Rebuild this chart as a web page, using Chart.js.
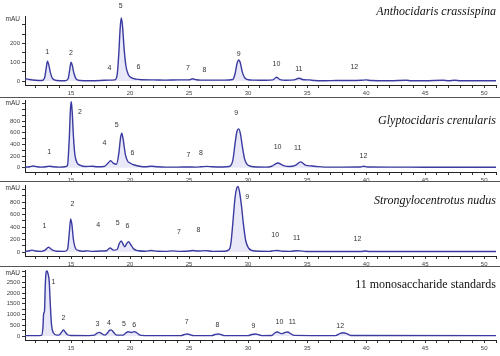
<!DOCTYPE html>
<html><head><meta charset="utf-8">
<script src="https://cdn.jsdelivr.net/npm/chart.js@4"></script>
<style>
html,body{margin:0;padding:0;background:#fff;}
#wrap{position:relative;width:500px;height:356px;overflow:hidden;}
canvas{position:absolute;left:0;top:0;}
</style></head><body>
<div id="wrap">
<canvas id="c1" width="500" height="356"></canvas>
<canvas id="c2" width="500" height="356"></canvas>
<canvas id="c3" width="500" height="356"></canvas>
<canvas id="c4" width="500" height="356"></canvas>
</div>
<script>
// ---------- shared axis labels ----------
const xTickLabels = [15, 20, 25, 30, 35, 40, 45, 50];
const yUnit = 'mAU';

// ---------- Panel 1: Anthocidaris crassispina ----------
const anthoTitle = 'Anthocidaris crassispina';
const anthoTimes = [11.1,11.5,12.0,12.5,12.75,12.9,13.0,13.1,13.25,13.45,13.8,14.5,14.75,14.9,15.0,15.1,15.25,15.45,15.8,16.5,17.5,18.2,18.7,18.9,19.05,19.15,19.25,19.35,19.5,19.65,19.85,20.1,20.5,21,22,23,24,25.0,25.3,25.6,26,27,28,28.7,28.9,29.05,29.2,29.35,29.5,29.7,30.0,30.5,31.5,32.1,32.4,32.7,33.2,33.9,34.3,34.7,35.2,35.6,36.5,37.5,38.5,39.6,40.0,40.4,42,43.4,43.8,45,46.5,47,47.5,48,51];
const anthoValues = [14,8,4,3,15,70,105,90,45,12,3,2,12,65,100,85,40,10,3,2,3,5,6,30,150,270,335,300,170,80,35,18,10,7,6,5,6,6,12,7,5,5,5,8,40,90,112,95,50,18,7,5,4,6,20,8,4,6,15,7,6,3,2,3,3,4,6,3,2,4,2,2,4,2,4,2,2];
const anthoPeakLabels = ['1','2','4','5','6','7','8','9','10','11','12'];
const anthoPeakTimes = [12.97,15.0,18.25,19.2,20.7,24.9,26.3,29.2,32.4,34.3,39.0];
const anthoPeakLevels = [154,149,71,399,74,69,58,144,90,64,74];
const anthoYTicks = [0, 100, 200];

// ---------- Panel 2: Glyptocidaris crenularis ----------
const glypTitle = 'Glyptocidaris crenularis';
const glypTimes = [11.1,11.5,11.8,12.1,12.5,13.0,13.2,13.5,14.0,14.5,14.7,14.85,14.95,15.02,15.1,15.2,15.32,15.5,15.8,16.2,16.8,17.2,17.8,18.1,18.35,18.6,18.85,19.05,19.2,19.3,19.42,19.6,19.8,20.0,20.3,20.8,21.3,21.8,22.3,23,24,25,25.5,26.0,26.5,27.0,27.8,28.4,28.7,28.9,29.05,29.2,29.35,29.5,29.7,29.9,30.2,30.8,31.5,32.0,32.5,33.0,33.5,34.0,34.45,34.9,35.4,35.8,36.5,38,39.5,39.8,40.1,42,45,48,51];
const glypValues = [10,15,30,15,10,20,25,15,10,15,40,500,1000,1130,950,550,230,90,40,20,25,15,20,70,120,75,60,250,520,590,480,230,110,80,50,25,15,25,15,10,10,12,10,15,22,15,12,20,120,420,620,665,580,380,150,60,25,12,10,25,80,35,20,40,100,40,30,20,10,10,12,25,12,10,8,8,8];
const glypPeakLabels = ['1','2','4','5','6','7','8','9','10','11','12'];
const glypPeakTimes = [13.16,15.76,17.82,18.87,20.2,24.94,26.0,29.0,32.5,34.2,39.77];
const glypPeakLevels = [264,950,429,732,257,218,247,933,360,333,200];
const glypYTicks = [0, 200, 400, 600, 800];

// ---------- Panel 3: Strongylocentrotus nudus ----------
const strongTitle = 'Strongylocentrotus nudus';
const strongTimes = [11.1,11.5,11.7,12.0,12.5,12.8,13.1,13.4,13.8,14.4,14.7,14.85,14.97,15.08,15.2,15.35,15.6,16.0,16.4,16.8,17.5,18.0,18.3,18.6,18.9,19.1,19.25,19.45,19.55,19.7,19.87,20.05,20.3,20.7,21.3,21.8,22.3,23.0,23.6,24.2,25.0,25.3,25.7,26.4,27,28.0,28.4,28.55,28.7,28.9,29.05,29.15,29.3,29.45,29.6,29.8,30.05,30.4,31.0,31.8,32.2,32.5,32.9,33.6,34.1,34.4,34.9,36,38,39.6,39.9,40.3,42,45,51];
const strongValues = [10,20,30,15,10,30,75,35,12,10,40,300,530,430,200,70,25,12,18,10,15,20,64,30,40,140,176,110,82,130,165,120,50,20,12,25,12,10,18,10,15,25,15,22,10,12,40,150,450,880,1030,1050,930,720,450,180,60,20,12,10,22,25,12,10,20,18,8,8,8,8,15,8,8,8,8];
const strongPeakLabels = ['1','2','4','5','6','7','8','9','10','11','12'];
const strongPeakTimes = [12.74,15.11,17.31,18.96,19.77,24.15,25.79,29.92,32.29,34.12,39.26];
const strongPeakLevels = [411,768,437,459,421,320,347,875,267,224,208];
const strongYTicks = [0, 200, 400, 600, 800];

// ---------- Panel 4: 11 monosaccharide standards ----------
const stdTitle = '11 monosaccharide standards';
const stdTimes = [11.1,12.0,12.5,12.62,12.68,12.75,12.82,12.9,12.97,13.05,13.15,13.25,13.35,13.5,13.8,14.0,14.2,14.35,14.5,14.7,15.0,16.5,17.0,17.2,17.4,17.6,17.85,18.05,18.25,18.4,18.6,18.85,19.4,19.65,19.85,20.1,20.35,20.6,20.85,21.2,24.3,24.6,24.86,25.1,25.4,26.9,27.2,27.48,27.75,28.0,30.0,30.3,30.6,30.9,31.2,32.0,32.25,32.48,32.75,32.9,33.15,33.36,33.6,33.9,37.4,37.8,38.08,38.35,38.7,51];
const stdValues = [20,20,30,400,1050,1150,2400,3000,3030,2900,2550,1400,500,150,40,50,180,280,190,60,25,20,40,130,170,110,40,120,260,285,180,40,40,150,200,165,205,140,40,20,20,70,95,60,20,20,70,95,60,20,20,70,95,60,20,25,140,186,120,110,170,186,110,30,20,120,155,110,25,20];
const stdPeakLabels = ['1','2','3','4','5','6','7','8','9','10','11','12'];
const stdPeakTimes = [13.5,14.35,17.23,18.22,19.49,20.34,24.8,27.4,30.45,32.65,33.75,37.8];
const stdPeakLevels = [2530,823,574,590,574,527,636,512,466,636,636,466];
const stdYTicks = [0, 500, 1000, 1500, 2000, 2500];

// ---------- layout (pixel geometry, not data) ----------
const panels = [
  {id:'c1', times:anthoTimes, values:anthoValues, title:anthoTitle, italic:true, titleY:12,
   labels:anthoPeakLabels, lt:anthoPeakTimes, lv:anthoPeakLevels, yTicks:anthoYTicks, yMinor:50,
   ymin:-21, ymax:346, top:16, bottom:85, sep:null},
  {id:'c2', times:glypTimes, values:glypValues, title:glypTitle, italic:true, titleY:121,
   labels:glypPeakLabels, lt:glypPeakTimes, lv:glypPeakLevels, yTicks:glypYTicks, yMinor:100,
   ymin:-74, ymax:1161, top:100, bottom:172, sep:97},
  {id:'c3', times:strongTimes, values:strongValues, title:strongTitle, italic:true, titleY:201,
   labels:strongPeakLabels, lt:strongPeakTimes, lv:strongPeakLevels, yTicks:strongYTicks, yMinor:100,
   ymin:-64, ymax:1072, top:185, bottom:256, sep:181},
  {id:'c4', times:stdTimes, values:stdValues, title:stdTitle, italic:false, titleY:285,
   labels:stdPeakLabels, lt:stdPeakTimes, lv:stdPeakLevels, yTicks:stdYTicks, yMinor:250,
   ymin:-186, ymax:3074, top:270, bottom:340, sep:266}
];

const X_AXIS_H = 12;
const tickFont = {family:'"Liberation Sans", Arial, sans-serif', size:6};

const decor = {
  id:'decor',
  afterDraw(chart, args, o) {
    const ctx = chart.ctx, xs = chart.scales.x, ys = chart.scales.y;
    ctx.save();
    if (o.sep !== null) {
      ctx.strokeStyle = '#555'; ctx.lineWidth = 1;
      ctx.beginPath(); ctx.moveTo(0, o.sep + 0.5); ctx.lineTo(500, o.sep + 0.5); ctx.stroke();
    }
    // unit label
    ctx.fillStyle = '#333';
    ctx.font = '6.5px "Liberation Sans", Arial, sans-serif';
    ctx.textAlign = 'right'; ctx.textBaseline = 'middle';
    ctx.fillText(yUnit, 20, chart.chartArea.top + 3.5);
    // peak labels
    ctx.font = '7px "Liberation Sans", Arial, sans-serif';
    ctx.textAlign = 'center';
    o.labels.forEach((l, i) => {
      ctx.fillText(l, xs.getPixelForValue(o.lt[i]), ys.getPixelForValue(o.lv[i]));
    });
    // title
    ctx.fillStyle = '#111';
    ctx.font = (o.italic ? 'italic ' : '') + '12px "Liberation Serif", "Times New Roman", serif';
    ctx.textAlign = 'right';
    ctx.fillText(o.title, 496, o.titleY);
    ctx.restore();
  }
};

panels.forEach(p => {
  const majorSet = new Set(xTickLabels);
  const ySet = new Set(p.yTicks);
  new Chart(document.getElementById(p.id), {
    type:'line',
    data:{datasets:[{
      data:p.times.map((t, i) => ({x:t, y:p.values[i]})),
      borderColor:'#3a3aa0', borderWidth:1.4,
      backgroundColor:'rgba(140,140,225,0.2)', fill:'origin',
      pointRadius:0, cubicInterpolationMode:'monotone'
    }]},
    options:{
      responsive:false, animation:false, devicePixelRatio:1,
      layout:{padding:{left:0, right:4, top:p.top, bottom:356 - p.bottom - X_AXIS_H}},
      plugins:{legend:{display:false}, tooltip:{enabled:false}, decor:{
        sep:p.sep, title:p.title, italic:p.italic, titleY:p.titleY,
        labels:p.labels, lt:p.lt, lv:p.lv}},
      scales:{
        x:{type:'linear', min:11.1, max:51,
           afterFit(a){ a.height = X_AXIS_H; },
           afterBuildTicks(a){ const t=[]; for (let v=12; v<=51; v++) t.push({value:v}); a.ticks=t; },
           border:{display:true, color:'#222', width:1},
           grid:{drawOnChartArea:false, drawTicks:true, tickLength:3, color:'#333'},
           ticks:{autoSkip:false, maxRotation:0, padding:2, font:tickFont, color:'#444',
                  callback:(v) => majorSet.has(v) ? String(v) : ''}},
        y:{type:'linear', min:p.ymin, max:p.ymax,
           afterFit(a){ a.width = 25; },
           afterBuildTicks(a){ const t=[]; for (let v=0; v<=p.ymax; v+=p.yMinor) t.push({value:v}); a.ticks=t; },
           border:{display:true, color:'#222', width:1},
           grid:{drawOnChartArea:false, drawTicks:true, tickLength:3, color:'#333'},
           ticks:{autoSkip:false, padding:2, font:tickFont, color:'#444',
                  callback:(v) => ySet.has(v) ? String(v) : ''}}
      }
    },
    plugins:[decor]
  });
});
</script>
</body></html>
